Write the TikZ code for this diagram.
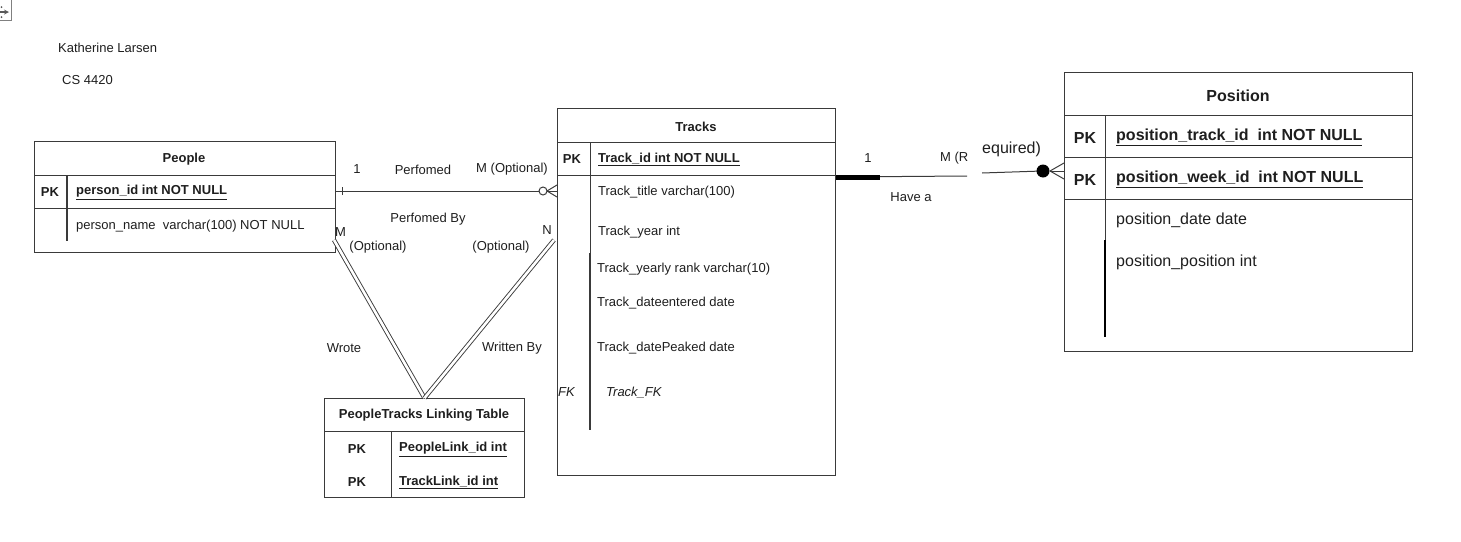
\documentclass[tikz,border=0pt]{standalone}
\usepackage{fontspec}
\setmainfont{Liberation Sans}
\usetikzlibrary{calc}
\newcommand{\myul}[1]{\underline{#1}}
\definecolor{lc}{HTML}{3A3A3A}
\definecolor{tc}{HTML}{1E1E1E}
\tikzset{
  box/.style={draw=lc, line width=1pt, inner sep=0pt, anchor=north west},
  sep/.style={draw=lc, line width=0.9pt},
  txt/.style={inner sep=0pt, anchor=west, yshift=-1.5pt, text=tc, font=\fontsize{13}{15}\selectfont},
  ctxt/.style={inner sep=0pt, yshift=-1.5pt, text=tc, font=\fontsize{13}{15}\selectfont},
  btxt/.style={txt, font=\fontsize{13}{15}\selectfont\bfseries},
  bctxt/.style={ctxt, font=\fontsize{13}{15}\selectfont\bfseries},
  big/.style={txt, font=\fontsize{16}{18}\selectfont},
  bigb/.style={txt, font=\fontsize{16}{18}\selectfont\bfseries},
  conn/.style={draw=lc, line width=1pt},
  dbl/.style={draw=lc, line width=0.9pt, double=white, double distance=2.6pt},
}
\begin{document}
\begin{tikzpicture}[x=1pt,y=-1pt]
\useasboundingbox (0,0) rectangle (1461,541);
% corner icon
\draw[gray, line width=1pt] (-2,-2) rectangle (11.5,20);
\draw[gray!70!black, line width=1.2pt, ->, >=stealth] (0,12) -- (9,12);
\fill[gray!70!black] (1.5,7) circle (1pt) (1.5,17) circle (1pt);

\node[txt] (author) at (58,46) {Katherine Larsen};
\node[txt] (course) at (62,79) {CS 4420};

% ---------- People ----------
\node[box, minimum width=301pt, minimum height=111pt] (people) at (34,141) {};
\draw[sep] (34,175) -- (335,175);
\draw[sep] (34,208) -- (335,208);
\draw[lc, line width=1.2pt] (67,175) -- (67,241);
\node[bctxt] (ptitle) at (184,158) {People};
\node[bctxt] (ppk) at (50,191) {PK};
\node[btxt] (pid) at (76,191) {\myul{person\_id int NOT NULL}};
\node[txt] (pname) at (76,225) {person\_name\ \ varchar(100) NOT NULL};

% ---------- Tracks ----------
\node[box, minimum width=278pt, minimum height=367pt] (tracks) at (557,108) {};
\draw[sep] (557,142) -- (835,142);
\draw[sep] (557,175) -- (835,175);
\draw[lc, line width=0.9pt] (590,142) -- (590,253);
\draw[lc, line width=1.8pt] (590,253) -- (590,430);
\node[bctxt] (ttitle) at (696,125) {Tracks};
\node[bctxt] (tpk) at (572,158) {PK};
\node[btxt] (tid) at (598,158) {\myul{Track\_id int NOT NULL}};
\node[txt] (ttitle2) at (598,191) {Track\_title varchar(100)};
\node[txt] (tyear) at (598,231) {Track\_year int};
\node[txt] (trank) at (597,268) {Track\_yearly rank varchar(10)};
\node[txt] (tentered) at (597,302) {Track\_dateentered date};
\node[txt] (tpeaked) at (597,347) {Track\_datePeaked date};
\node[txt, font=\fontsize{13}{15}\selectfont\itshape] (tfk) at (558,391) {FK};
\node[txt, font=\fontsize{13}{15}\selectfont\itshape] (tfkname) at (606,391) {Track\_FK};

% ---------- Position ----------
\node[box, minimum width=348pt, minimum height=279pt] (position) at (1064,72) {};
\draw[sep] (1064,115) -- (1412,115);
\draw[sep] (1064,157) -- (1412,157);
\draw[sep] (1064,199) -- (1412,199);
\draw[lc, line width=0.9pt] (1105,115) -- (1105,240);
\draw[black, line width=2pt] (1105,240) -- (1105,337);
\node[bigb, anchor=center] (potitle) at (1238,94) {Position};
\node[bigb, anchor=center] (popk1) at (1085,136) {PK};
\node[bigb, anchor=center] (popk2) at (1085,178) {PK};
\node[bigb] (potid) at (1116,136) {\myul{position\_track\_id\ \ int NOT NULL}};
\node[bigb] (powid) at (1116,178) {\myul{position\_week\_id\ \ int NOT NULL}};
\node[big] (podate) at (1116,219) {position\_date date};
\node[big] (popos) at (1116,261) {position\_position int};

% ---------- Linking table ----------
\node[box, minimum width=200pt, minimum height=99pt] (link) at (324,398) {};
\draw[sep] (324,431) -- (524,431);
\draw[sep] (391,431) -- (391,497);
\node[bctxt] (ltitle) at (424,414) {PeopleTracks Linking Table};
\node[bctxt] (lpk1) at (357,448) {PK};
\node[bctxt] (lpk2) at (357,481) {PK};
\node[btxt] (lpid) at (399,448) {\myul{PeopleLink\_id int}};
\node[btxt] (ltid) at (399,481) {\myul{TrackLink\_id int}};

% ---------- People -- Tracks ----------
\draw[conn] (people.east |- 0,191) -- ($(tracks.west |- 0,191)+(-18,0)$);
\draw[conn] ($(people.east |- 0,191)+(6,-4)$) -- ($(people.east |- 0,191)+(6,4)$);
\draw[conn] ($(tracks.west |- 0,191)+(-14,0)$) circle (4pt);
\draw[conn] ($(tracks.west |- 0,191)+(-10,0)$) -- ($(tracks.west |- 0,191)+(0,-6)$);
\draw[conn] ($(tracks.west |- 0,191)+(-10,0)$) -- (tracks.west |- 0,191);
\draw[conn] ($(tracks.west |- 0,191)+(-10,0)$) -- ($(tracks.west |- 0,191)+(0,6)$);
\node[ctxt] (l1) at (357,168) {1};
\node[ctxt] (lperf) at (423,168) {Perfomed};
\node[ctxt] (lmopt) at (512,168) {M (Optional)};
\node[ctxt] (lperfby) at (428,218) {Perfomed By};

% ---------- double lines to linking table ----------
\coordinate (wA) at (334,240);
\coordinate (wB) at (554,240);
\draw[dbl] (wA) -- (link.north);
\draw[dbl] (wB) -- (link.north);
\node[txt] (lM) at (335,231) {M};
\node[ctxt] (lopt1) at (378,246) {(Optional)};
\node[ctxt] (lN) at (547,229) {N};
\node[ctxt] (lopt2) at (501,246) {(Optional)};
\node[ctxt] (lwrote) at (344,347) {Wrote};
\node[ctxt] (lwritten) at (512,347) {Written By};

% ---------- Tracks -- Position ----------
\coordinate (hA) at (967,176);
\coordinate (hB) at (982,173);
\draw[conn] (tracks.east |- 0,177) -- (hA);
\draw[black, line width=5pt] (tracks.east |- 0,177) -- (880,177);
\draw[conn] (hB) -- (1042,171);
\fill[black] (1043,171) circle (6.5pt);
\draw[conn] (1050,171) -- (position.west |- 0,163);
\draw[conn] (1050,171) -- (position.west |- 0,171);
\draw[conn] (1050,171) -- (position.west |- 0,179);
\node[ctxt] (l1b) at (868,157) {1};
\begin{scope}
\clip (930,140) rectangle (967,172);
\node[txt] (lmreq) at (940,157) {M (R};
\end{scope}
\node[big] (lreq) at (982,148) {equired)};
\node[ctxt] (lhave) at (911,196) {Have a};
\end{tikzpicture}
\end{document}
